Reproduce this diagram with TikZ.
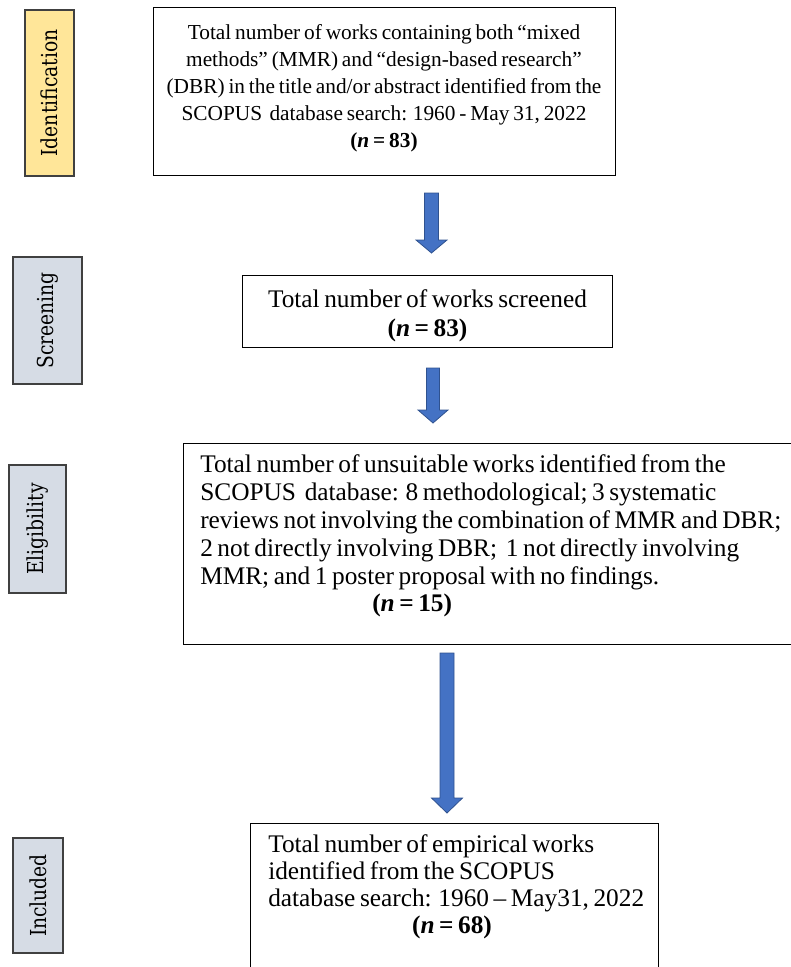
\documentclass[tikz,border=0pt]{standalone}
\usepackage{fontspec}
\setmainfont{Liberation Serif}
\newfontfamily\stagefont{DejaVu Serif}[FakeStretch=0.85]
\usetikzlibrary{calc}
\definecolor{stageyellow}{HTML}{FFE699}
\definecolor{stagegrey}{HTML}{D6DCE5}
\definecolor{arrowfill}{HTML}{4472C4}
\definecolor{arrowedge}{HTML}{2F528F}
\newcommand{\tightsp}{\spaceskip=0.18em plus 0.05em minus 0.02em\relax}
% block arrow: centre x, top y, head start y, tip y, half shaft, half head
\newcommand{\blockarr}[6]{%
  \filldraw[blockarrow] ({#1-#5},#2) -- ({#1+#5},#2) -- ({#1+#5},#3) -- ({#1+#6},#3)
    -- (#1,#4) -- ({#1-#6},#3) -- ({#1-#5},#3) -- cycle;}
\begin{document}
\begin{tikzpicture}[x=0.75pt,y=-0.75pt,
  box/.style={draw=black, line width=0.9pt, rectangle, inner sep=0pt, anchor=north west},
  stagebox/.style={draw=black!75, line width=0.8pt, rectangle, inner sep=0pt, rotate=90,
    font=\stagefont\fontsize{16.5}{18}\selectfont},
  bodytext/.style={inner sep=0pt, font=\fontsize{19}{20.25}\selectfont\tightsp},
  blockarrow/.style={fill=arrowfill, draw=arrowedge, line width=0.6pt, line join=miter}
]
\useasboundingbox (0,0) rectangle (790,967);

% stage labels
\node[stagebox, fill=stageyellow, minimum width=124.5pt, minimum height=36.75pt] (sid) at (49.5,93) {Identification};
\node[stagebox, fill=stagegrey, minimum width=95.25pt, minimum height=51.75pt] (sscr) at (47.5,320.5) {Screening};
\node[stagebox, fill=stagegrey, minimum width=96pt, minimum height=42.75pt] (selig) at (37.5,529) {Eligibility};
\node[stagebox, fill=stagegrey, minimum width=86.25pt, minimum height=37.5pt] (sinc) at (38,895.5) {Included};

% boxes
\node[box, minimum width=346.5pt, minimum height=126pt] (b1) at (153,7) {};
\node[box, minimum width=277.5pt, minimum height=54pt] (b2) at (242,275) {};
\node[box, minimum width=462.75pt, minimum height=150.75pt] (b3) at (183,443) {};
\node[box, minimum width=306pt, minimum height=120pt] (b4) at (250,823) {};

% texts
\node[bodytext, align=center, anchor=north, font=\fontsize{16}{20.25}\selectfont\tightsp] (t1) at (384,24.5)
  {Total number of works containing both “mixed\\
   methods” (MMR) and “design-based research”\\
   (DBR) in the title and/or abstract identified from the\\
   SCOPUS\, database search: 1960 - May 31, 2022\\
   \textbf{(\textit{n} = 83)}};
\node[bodytext, align=center, anchor=north, font=\fontsize{19}{21.75}\selectfont\tightsp] (t2) at (427.5,289.5)
  {Total number of works screened\\ \textbf{(\textit{n} = 83)}};
\node[bodytext, align=left, anchor=north west, font=\fontsize{19}{21}\selectfont\tightsp] (t3) at (200,454.5)
  {Total number of unsuitable works identified from the\\
   SCOPUS\, database: 8 methodological; 3 systematic\\
   reviews not involving the combination of MMR and DBR;\\
   2 not directly involving DBR;\, 1 not directly involving\\
   MMR; and 1 poster proposal with no findings.};
\node[bodytext, anchor=base west] (n3) at (372,611) {\textbf{(\textit{n} = 15)}};
\node[bodytext, align=left, anchor=north west] (t4) at (268,834.5)
  {Total number of empirical works\\
   identified from the SCOPUS\\
   database search: 1960 – May31, 2022};
\node[bodytext, anchor=base] (n4) at (452,933) {\textbf{(\textit{n} = 68)}};

% block arrows between the stages
\blockarr{431.5}{193}{240}{253}{7}{15.5}
\blockarr{433}{368}{410}{423}{6.5}{15}
\blockarr{447}{653}{798}{813}{7}{15.5}
\end{tikzpicture}
\end{document}
